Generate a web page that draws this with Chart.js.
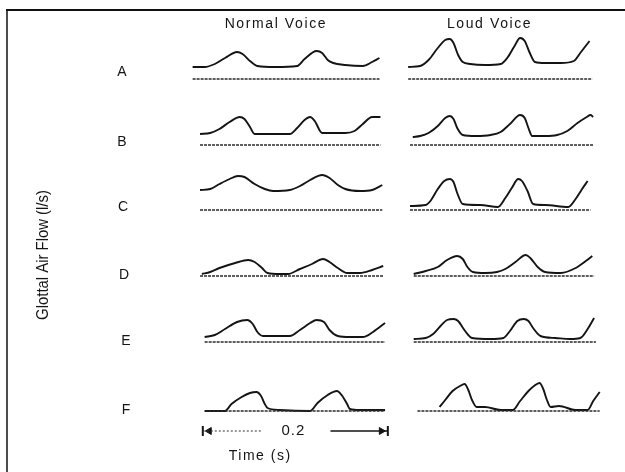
<!DOCTYPE html>
<html>
<head>
<meta charset="utf-8">
<script src="https://cdn.jsdelivr.net/npm/chart.js@4/dist/chart.umd.min.js"></script>
<style>
  html, body { margin: 0; padding: 0; background: #fff; }
  canvas { display: block; }
</style>
</head>
<body>
<canvas id="myChart" width="625" height="472"></canvas>
<script>
var columns = ['Normal Voice', 'Loud Voice'];
var rows = ['A', 'B', 'C', 'D', 'E', 'F'];
var yTitle = 'Glottal Air Flow (l/s)';
var xTitle = 'Time (s)';
var scaleBar = 0.2;

// glottal flow traces: [time (s), flow above the zero line (l/s)]
var normalA = [[-0.011,0.12],[0.002,0.12],[0.013,0.15],[0.024,0.21],[0.037,0.27],[0.043,0.25],[0.051,0.18],[0.059,0.13],[0.078,0.12],[0.102,0.13],[0.110,0.20],[0.123,0.28],[0.129,0.26],[0.135,0.19],[0.141,0.16],[0.154,0.14],[0.173,0.13],[0.183,0.17],[0.191,0.21]];
var normalB = [[-0.003,0.11],[0.008,0.12],[0.018,0.16],[0.029,0.23],[0.040,0.28],[0.045,0.26],[0.051,0.18],[0.056,0.11],[0.072,0.11],[0.094,0.11],[0.102,0.17],[0.110,0.25],[0.116,0.28],[0.121,0.24],[0.129,0.12],[0.154,0.12],[0.164,0.14],[0.173,0.21],[0.183,0.28],[0.192,0.28]];
var normalC = [[-0.003,0.20],[0.008,0.21],[0.018,0.26],[0.029,0.31],[0.038,0.34],[0.045,0.33],[0.056,0.26],[0.067,0.21],[0.076,0.19],[0.094,0.20],[0.105,0.24],[0.116,0.30],[0.129,0.35],[0.137,0.32],[0.146,0.25],[0.154,0.21],[0.170,0.19],[0.183,0.20],[0.194,0.25]];
var normalD = [[-0.001,0.02],[0.008,0.04],[0.018,0.08],[0.035,0.13],[0.049,0.16],[0.056,0.14],[0.064,0.08],[0.070,0.03],[0.083,0.02],[0.092,0.02],[0.105,0.07],[0.118,0.12],[0.130,0.17],[0.137,0.14],[0.146,0.08],[0.156,0.03],[0.170,0.03],[0.183,0.06],[0.195,0.10]];
var normalE = [[0.002,0.05],[0.013,0.07],[0.024,0.13],[0.037,0.20],[0.048,0.22],[0.054,0.18],[0.059,0.10],[0.065,0.06],[0.078,0.06],[0.094,0.06],[0.105,0.12],[0.116,0.19],[0.123,0.22],[0.131,0.20],[0.137,0.12],[0.146,0.06],[0.159,0.05],[0.173,0.05],[0.184,0.10],[0.197,0.19]];
var normalF = [[0.002,0],[0.024,0],[0.031,0.07],[0.042,0.14],[0.051,0.18],[0.058,0.19],[0.063,0.15],[0.067,0.07],[0.070,0.03],[0.083,0.01],[0.116,0],[0.124,0.08],[0.135,0.16],[0.145,0.20],[0.150,0.16],[0.156,0.07],[0.159,0.02],[0.170,0.01],[0.197,0.01]];

var loudA = [[-0.011,0.12],[0.002,0.13],[0.011,0.19],[0.021,0.31],[0.029,0.39],[0.034,0.40],[0.038,0.36],[0.043,0.24],[0.048,0.17],[0.056,0.15],[0.072,0.14],[0.089,0.15],[0.096,0.21],[0.104,0.33],[0.110,0.41],[0.115,0.38],[0.120,0.27],[0.126,0.17],[0.137,0.16],[0.154,0.16],[0.168,0.18],[0.175,0.26],[0.185,0.38]];
var loudB = [[-0.006,0.08],[0.002,0.09],[0.011,0.12],[0.021,0.19],[0.029,0.27],[0.034,0.29],[0.038,0.26],[0.042,0.17],[0.048,0.10],[0.062,0.09],[0.078,0.10],[0.089,0.13],[0.099,0.21],[0.110,0.30],[0.115,0.27],[0.119,0.17],[0.123,0.09],[0.137,0.09],[0.150,0.10],[0.161,0.14],[0.172,0.22],[0.182,0.28],[0.186,0.30],[0.189,0.28]];
var loudC = [[-0.009,0.04],[0.008,0.05],[0.013,0.09],[0.021,0.21],[0.028,0.29],[0.034,0.31],[0.038,0.28],[0.042,0.17],[0.048,0.06],[0.067,0.05],[0.086,0.03],[0.094,0.12],[0.101,0.22],[0.108,0.31],[0.112,0.29],[0.118,0.19],[0.124,0.06],[0.137,0.05],[0.162,0.03],[0.170,0.11],[0.177,0.21],[0.183,0.29]];
var loudD = [[-0.005,0.02],[0.008,0.05],[0.021,0.09],[0.031,0.16],[0.042,0.20],[0.048,0.17],[0.053,0.09],[0.059,0.04],[0.072,0.03],[0.085,0.04],[0.094,0.07],[0.105,0.14],[0.116,0.21],[0.121,0.18],[0.129,0.09],[0.137,0.04],[0.154,0.03],[0.170,0.08],[0.181,0.15],[0.188,0.20]];
var loudE = [[-0.005,0.03],[0.008,0.04],[0.016,0.08],[0.024,0.16],[0.031,0.22],[0.038,0.23],[0.043,0.21],[0.049,0.13],[0.054,0.07],[0.058,0.04],[0.078,0.03],[0.092,0.04],[0.099,0.11],[0.107,0.21],[0.114,0.23],[0.119,0.21],[0.124,0.14],[0.132,0.06],[0.148,0.04],[0.164,0.03],[0.175,0.04],[0.183,0.13],[0.190,0.24]];
var loudF = [[0.023,0.04],[0.029,0.11],[0.037,0.20],[0.045,0.25],[0.050,0.27],[0.054,0.21],[0.058,0.11],[0.063,0.04],[0.072,0.04],[0.089,0.01],[0.102,0.01],[0.110,0.10],[0.119,0.20],[0.125,0.25],[0.131,0.28],[0.135,0.22],[0.139,0.11],[0.143,0.04],[0.152,0.05],[0.170,0.01],[0.183,0.01],[0.189,0.10],[0.196,0.19]];

// start / end time of the zero-flow line under each trace
var normalZero = [[-0.011,0.191],[-0.003,0.192],[-0.003,0.194],[-0.003,0.195],[0.002,0.197],[0.002,0.197]];
var loudZero = [[-0.011,0.188],[-0.009,0.189],[-0.009,0.186],[-0.005,0.190],[-0.005,0.192],[-0.001,0.196]];

var normal = [normalA, normalB, normalC, normalD, normalE, normalF];
var loud = [loudA, loudB, loudC, loudD, loudE, loudF];

// row heights in px, last one is the time scale bar
var bands = [66, 66, 65, 66, 66, 69, 20];
var ink = '#141414';

function pts(arr) {
  return arr.map(function (p) { return {x: p[0], y: p[1]}; });
}

function trace(arr, xid, yid) {
  return {
    data: pts(arr), xAxisID: xid, yAxisID: yid,
    showLine: true, borderColor: ink, borderWidth: 1.9,
    pointRadius: 0, cubicInterpolationMode: 'monotone'
  };
}

function zeroLine(span, xid, yid) {
  return {
    data: [{x: span[0], y: 0}, {x: span[1], y: 0}], xAxisID: xid, yAxisID: yid,
    showLine: true, borderColor: '#2a2a2a', borderWidth: 1.4, borderDash: [3, 1],
    pointRadius: 0
  };
}

var datasets = [];
rows.forEach(function (r, i) {
  datasets.push(zeroLine(normalZero[i], 'xN', 'y' + r));
  datasets.push(zeroLine(loudZero[i], 'xL', 'y' + r));
  datasets.push(trace(normal[i], 'xN', 'y' + r));
  datasets.push(trace(loud[i], 'xL', 'y' + r));
});

// time scale bar: dotted half, gap for the label, solid half, arrows and end ticks
datasets.push({
  data: [{x: 0, y: 0}, {x: scaleBar * 0.32, y: 0}], xAxisID: 'xN', yAxisID: 'yBar',
  showLine: true, borderColor: '#333', borderWidth: 1.2, borderDash: [2, 2], pointRadius: 0
});
datasets.push({
  data: [{x: scaleBar * 0.69, y: 0}, {x: scaleBar, y: 0}], xAxisID: 'xN', yAxisID: 'yBar',
  showLine: true, borderColor: ink, borderWidth: 1.3, pointRadius: 0
});
datasets.push({
  data: [{x: scaleBar * 0.035, y: 0}, {x: scaleBar * 0.965, y: 0}], xAxisID: 'xN', yAxisID: 'yBar',
  showLine: false, pointStyle: 'triangle', pointRotation: [-90, 90], pointRadius: 4,
  backgroundColor: ink, borderColor: ink, borderWidth: 1
});
datasets.push({
  data: [{x: 0, y: 0}, {x: scaleBar, y: 0}], xAxisID: 'xN', yAxisID: 'yBar',
  showLine: false, pointStyle: 'line', pointRotation: 90, pointRadius: 5,
  borderColor: ink, borderWidth: 2
});

var scales = {
  xN: {type: 'linear', position: 'bottom', stack: 'cols', stackWeight: 1, weight: 0, min: -0.016, max: 0.211, display: false},
  xL: {type: 'linear', position: 'bottom', stack: 'cols', stackWeight: 1, weight: 1, min: -0.022, max: 0.205, display: false}
};
rows.concat(['Bar']).forEach(function (r, i) {
  scales['y' + r] = {
    type: 'linear', position: 'left', stack: 'rows', stackWeight: bands[i], weight: 10 - i,
    min: -0.13, max: bands[i] / 100 - 0.13, display: false
  };
});

var textFont = '14px "Liberation Sans", Arial, sans-serif';

var labels = {
  id: 'labels',
  beforeDraw: function (chart) {
    var ctx = chart.ctx;
    ctx.save();
    ctx.strokeStyle = '#111';
    ctx.lineWidth = 2;
    ctx.beginPath();
    ctx.moveTo(6, 10); ctx.lineTo(625, 10);
    ctx.stroke();
    ctx.lineWidth = 1.5;
    ctx.beginPath();
    ctx.moveTo(7, 10); ctx.lineTo(7, 472);
    ctx.stroke();
    ctx.restore();
  },
  afterDraw: function (chart) {
    var ctx = chart.ctx;
    var xN = chart.scales.xN, xL = chart.scales.xL;
    ctx.save();
    ctx.fillStyle = ink;
    ctx.font = textFont;
    ctx.letterSpacing = '1.6px';
    ctx.textAlign = 'center';
    ctx.textBaseline = 'middle';
    ctx.fillText(columns[0], xN.getPixelForValue(0.079), 24);
    ctx.fillText(columns[1], xL.getPixelForValue(0.077), 24);

    var letterX = [122, 122, 123, 124, 126, 126];
    var letterLift = [7, 3, 3, 1, 1, 1];
    ctx.letterSpacing = '0px';
    rows.forEach(function (r, i) {
      var y = chart.scales['y' + r].getPixelForValue(0) - letterLift[i];
      ctx.fillText(r, letterX[i], y);
    });

    var yb = chart.scales.yBar.getPixelForValue(0);
    ctx.font = '15px "Liberation Sans", Arial, sans-serif';
    ctx.letterSpacing = '1px';
    ctx.fillText(String(scaleBar), xN.getPixelForValue(scaleBar / 2) - 2, yb);
    ctx.font = textFont;
    ctx.letterSpacing = '1.5px';
    ctx.fillText(xTitle, xN.getPixelForValue(0.062), 456);

    ctx.letterSpacing = '0px';
    ctx.translate(44, 255);
    ctx.rotate(-Math.PI / 2);
    ctx.scale(0.93, 1);
    ctx.font = '16px "Liberation Sans Narrow", "Arial Narrow", "Liberation Sans", sans-serif';
    ctx.fillText(yTitle, 0, 0);
    ctx.restore();
  }
};

new Chart('myChart', {
  type: 'scatter',
  data: {datasets: datasets},
  options: {
    responsive: false,
    animation: false,
    layout: {padding: {left: 188, right: 17, top: 26, bottom: 28}},
    scales: scales,
    plugins: {
      legend: {display: false},
      tooltip: {enabled: false}
    }
  },
  plugins: [labels]
});
</script>
</body>
</html>
